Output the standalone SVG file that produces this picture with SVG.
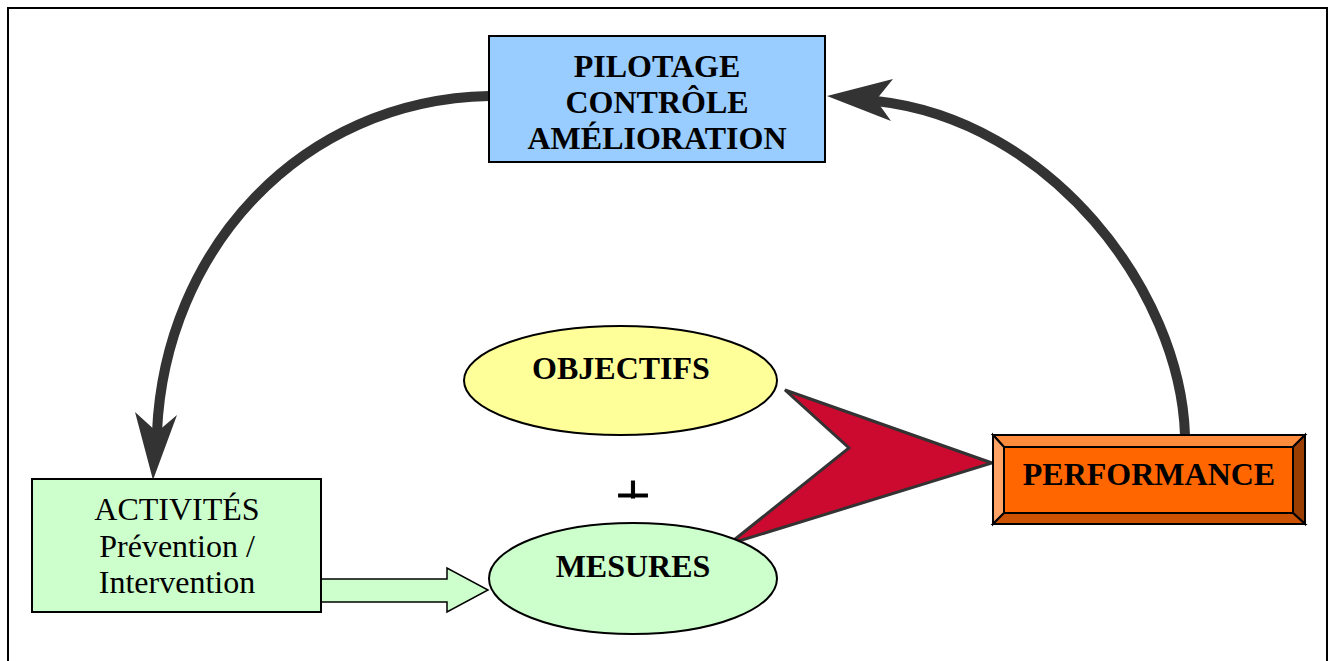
<svg xmlns="http://www.w3.org/2000/svg" width="1330" height="661" viewBox="0 0 1330 661">
  <style>
    .frame { fill: #ffffff; stroke: #000000; stroke-width: 2; }
    .box { stroke: #000000; stroke-width: 2; }
    .bold { font-family: "Liberation Serif", "Times New Roman", serif; font-weight: bold; font-size: 32px; fill: #000000; text-anchor: middle; }
    .plain { font-family: "Liberation Serif", "Times New Roman", serif; font-size: 32px; fill: #000000; text-anchor: middle; }
    .sign { font-family: "Liberation Serif", "Times New Roman", serif; font-size: 62px; fill: #000000; stroke: #000000; stroke-width: 1; text-anchor: middle; }
    .arc { fill: none; stroke: #333333; stroke-width: 10; stroke-linecap: round; }
    .head { fill: #333333; stroke: none; }
    .bevel { stroke: #000000; stroke-width: 2; stroke-linejoin: miter; }
  </style>
  <defs>
    <clipPath id="plusClip">
      <rect x="600" y="460" width="60" height="38.5"/>
    </clipPath>
  </defs>

  <rect class="frame" x="8" y="8" width="1319" height="700"/>

  <g id="connectors">
    <!-- curved arrow: pilotage to activities -->
    <path class="arc" d="M489,96 C300,100 165,250 157,432"/>
    <polygon class="head" points="153,480 135,412 157,432 177,415"/>
    <!-- curved arrow: performance to pilotage -->
    <path class="arc" d="M1185,435 C1180,290 1050,120 876,101"/>
    <polygon class="head" points="827,96 893,79 876,100 891,121"/>
    <!-- block arrow: activities to measures -->
    <polygon points="321,579 447,579 447,568 488,590 447,612 447,602 321,602" fill="#CCFFCC" stroke="#000000" stroke-width="1.5"/>
    <!-- converging chevron: objectives + measures to performance -->
    <polygon points="785,390 849,448 729,544 992,463" fill="#CC0A2F" stroke="#333333" stroke-width="3" stroke-linejoin="miter"/>
  </g>

  <g id="pilotage">
    <rect class="box" x="489" y="36" width="336" height="126" fill="#99CCFF"/>
    <text class="bold" x="657" y="77">PILOTAGE</text>
    <text class="bold" x="657" y="113">CONTRÔLE</text>
    <text class="bold" x="657" y="149">AMÉLIORATION</text>
  </g>

  <g id="activites">
    <rect class="box" x="32" y="479" width="289" height="133" fill="#CCFFCC"/>
    <text class="plain" x="177" y="520">ACTIVITÉS</text>
    <text class="plain" x="177" y="557">Prévention /</text>
    <text class="plain" x="177" y="593">Intervention</text>
  </g>

  <g id="objectifs">
    <ellipse class="box" cx="620.5" cy="380.5" rx="156.5" ry="54.5" fill="#FFFF99"/>
    <text class="bold" x="621" y="379">OBJECTIFS</text>
  </g>

  <g id="plus">
    <text class="sign" x="633" y="516" clip-path="url(#plusClip)">+</text>
  </g>

  <g id="mesures">
    <ellipse class="box" cx="633" cy="578.5" rx="144" ry="55.5" fill="#CCFFCC"/>
    <text class="bold" x="633" y="577">MESURES</text>
  </g>

  <g id="performance">
    <rect x="993" y="435" width="312" height="89" fill="#FF6600"/>
    <polygon class="bevel" points="993,435 1305,435 1293,447 1004,447" fill="#FF8C3C"/>
    <polygon class="bevel" points="993,435 1004,447 1004,513 993,524" fill="#FFA366"/>
    <polygon class="bevel" points="1305,435 1305,524 1293,513 1293,447" fill="#993D00"/>
    <polygon class="bevel" points="993,524 1004,513 1293,513 1305,524" fill="#CC5200"/>
    <rect class="bevel" x="1004" y="447" width="289" height="66" fill="#FF6600"/>
    <rect x="993" y="435" width="312" height="89" fill="none" stroke="#000000" stroke-width="2"/>
    <text class="bold" x="1149" y="485">PERFORMANCE</text>
  </g>
</svg>
